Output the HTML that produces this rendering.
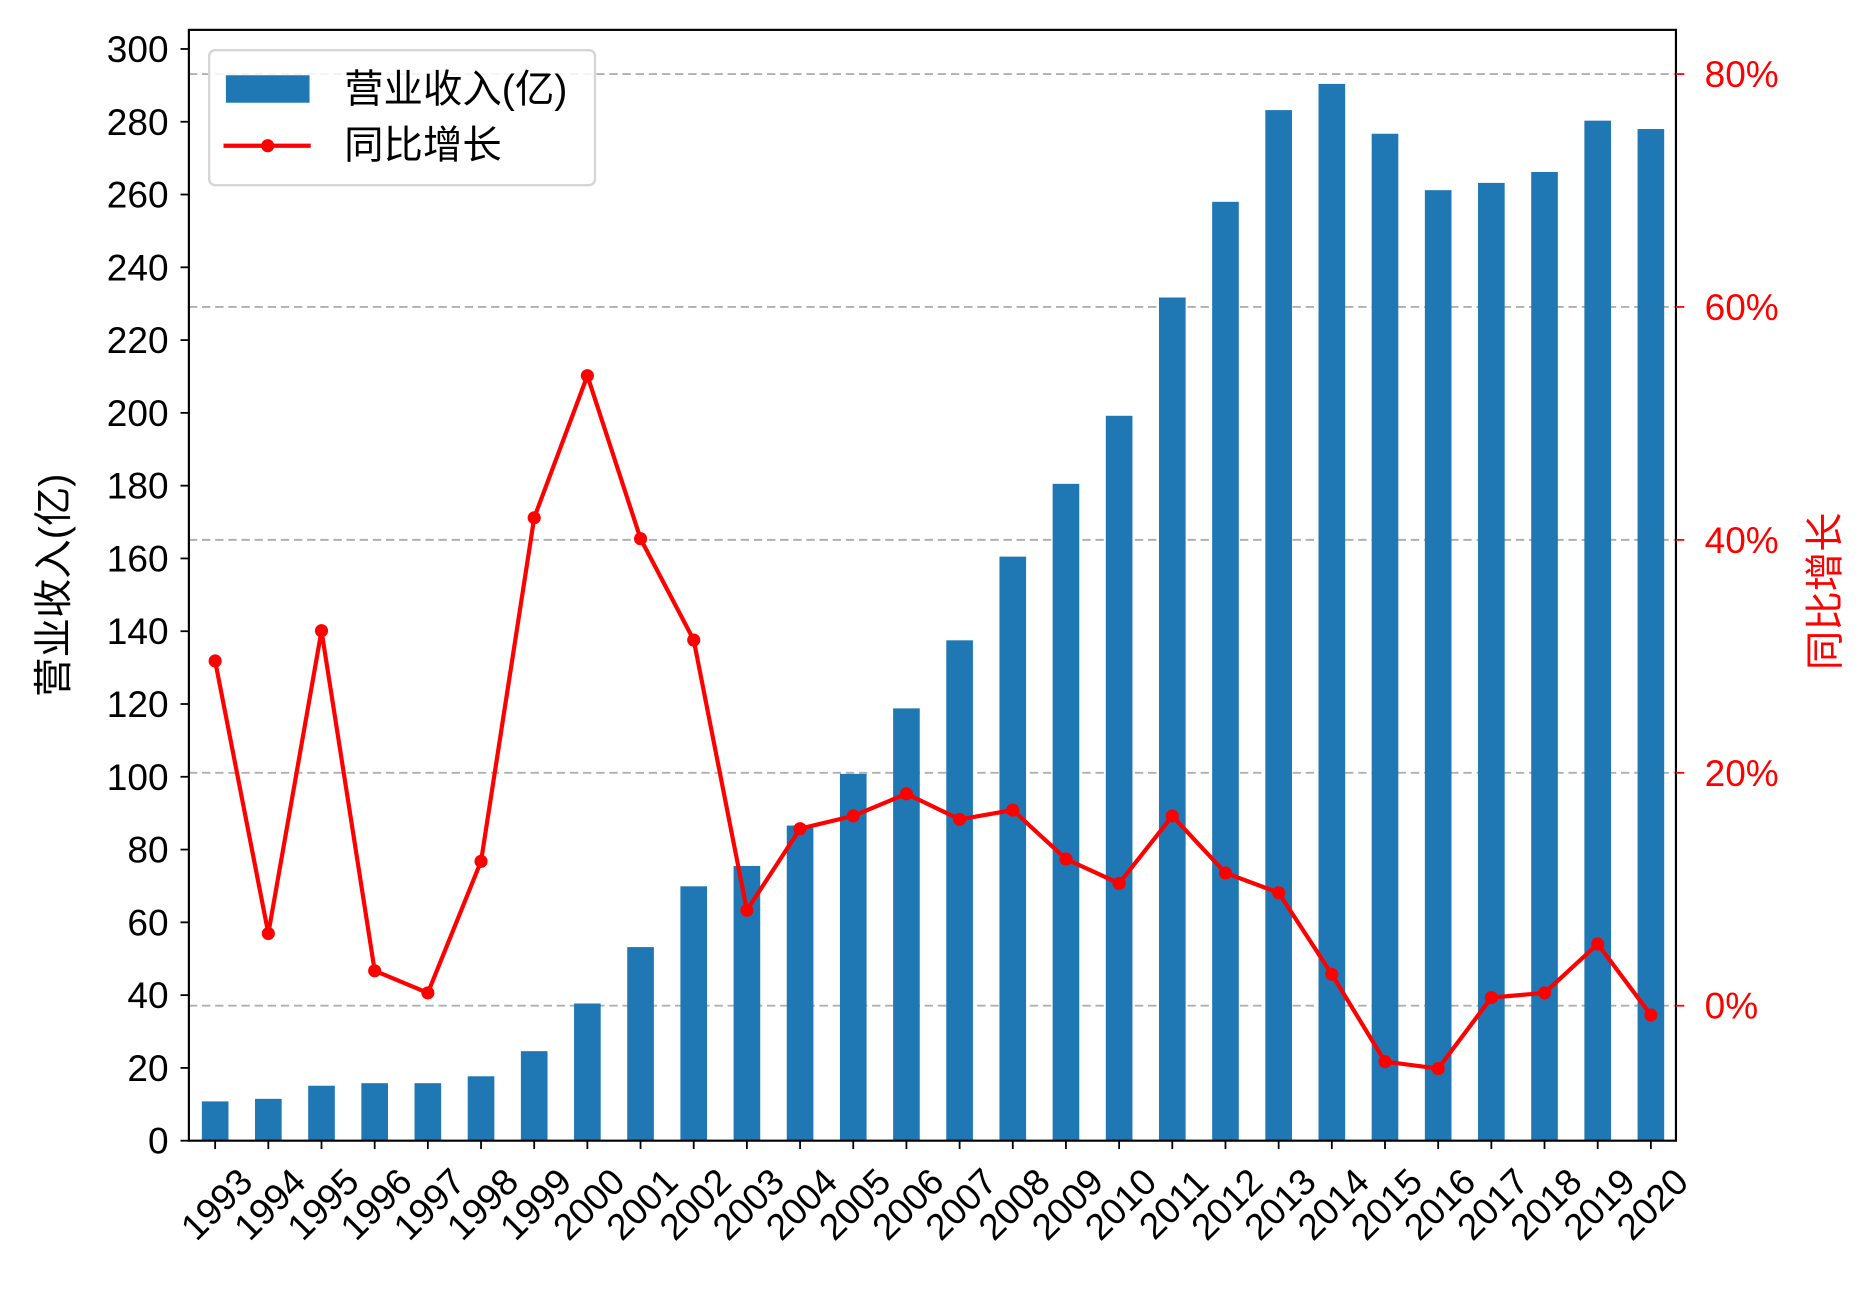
<!DOCTYPE html>
<html><head><meta charset="utf-8"><style>
html,body{margin:0;padding:0;background:#fff;}
body{position:relative;width:1872px;height:1290px;overflow:hidden}
svg{display:block;font-family:"Liberation Sans","Noto Sans CJK SC",sans-serif;}
</style></head><body>
<svg id="chart" width="1872" height="1290" viewBox="0 0 1567 1080" xmlns="http://www.w3.org/2000/svg">
<g id="grid"></g><g id="bars"></g><g id="line"></g><g id="axes"></g>
<text transform="translate(45,490) rotate(-90)" text-anchor="middle" dominant-baseline="central" font-size="33" fill="#000">营业收入(亿)</text>
<text transform="translate(1528,495) rotate(-90)" text-anchor="middle" dominant-baseline="central" font-size="33" fill="#ff0000">同比增长</text>
<g>
<rect x="175" y="42" width="323" height="113" rx="5" fill="#fff" fill-opacity="0.85" stroke="#d6d6d6" stroke-width="2"/>
<rect x="189" y="63" width="70" height="23" fill="#1f77b4"/>
<text x="288" y="75" dominant-baseline="central" font-size="33" fill="#000">营业收入(亿)</text>
<line x1="187" x2="260" y1="122" y2="122" stroke="#ff0000" stroke-width="3.5"/>
<circle cx="224" cy="122" r="5.5" fill="#ff0000"/>
<text x="288" y="122" dominant-baseline="central" font-size="33" fill="#000">同比增长</text>
</g>
</svg>
<script>
const years = [1993,1994,1995,1996,1997,1998,1999,2000,2001,2002,2003,2004,2005,2006,2007,2008,2009,2010,2011,2012,2013,2014,2015,2016,2017,2018,2019,2020];
const revenue = [10.8,11.5,15.1,15.8,15.8,17.7,24.6,37.7,53.2,69.9,75.5,86.6,100.8,118.8,137.5,160.5,180.5,199.2,231.7,258,283.2,290.4,276.7,261.2,263.2,266.2,280.3,278];
const growth = [29.6,6.2,32.2,3.0,1.1,12.4,41.9,54.1,40.1,31.4,8.2,15.2,16.3,18.2,16.0,16.8,12.6,10.5,16.3,11.4,9.7,2.7,-4.8,-5.4,0.7,1.1,5.3,-0.8];
const leftTicks = [0,20,40,60,80,100,120,140,160,180,200,220,240,260,280,300];
const rightTicks = [0,20,40,60,80];

const NS='http://www.w3.org/2000/svg';
const L=158,R=1403,T=25,B=955;
const xs=i=>180+i*(1382-180)/27;
const yl=v=>955-v*(955-41)/300;
const yr=p=>842-p*(842-62)/80;
function mk(tag,attrs,parent,text){const e=document.createElementNS(NS,tag);for(const k in attrs)e.setAttribute(k,attrs[k]);if(text!==undefined)e.textContent=text;parent.appendChild(e);return e;}
const grid=document.getElementById('grid'),bars=document.getElementById('bars'),line=document.getElementById('line'),axes=document.getElementById('axes');

rightTicks.forEach(p=>{const g=mk('line',{x1:L,x2:R,y1:yr(p),y2:yr(p),stroke:'#b0b0b0','stroke-width':1.6,'stroke-dasharray':'7,4'},grid);

});

const bw=22.3;
revenue.forEach((v,i)=>{const b=mk('rect',{x:xs(i)-bw/2,y:yl(v),width:bw,height:yl(0)-yl(v),fill:'#1f77b4'},bars);

});

const pts=growth.map((p,i)=>xs(i)+','+yr(p)).join(' ');
const pl=mk('polyline',{points:pts,fill:'none',stroke:'#ff0000','stroke-width':3.5,'stroke-linejoin':'round'},line);


growth.forEach((p,i)=>{const c=mk('circle',{cx:xs(i),cy:yr(p),r:5.5,fill:'#ff0000'},line);

});

const frame=mk('rect',{x:L,y:T,width:R-L,height:B-T,fill:'none',stroke:'#000','stroke-width':1.8},axes);



leftTicks.forEach(v=>{mk('line',{x1:L-7,x2:L,y1:yl(v),y2:yl(v),stroke:'#000','stroke-width':1.5},axes);
const t=mk('text',{x:L-17,y:yl(v),'text-anchor':'end','dominant-baseline':'central','font-size':31,fill:'#000'},axes,String(v));

});

rightTicks.forEach(p=>{mk('line',{x1:R,x2:R+7,y1:yr(p),y2:yr(p),stroke:'#ff0000','stroke-width':1.5},axes);
const t=mk('text',{x:R+24,y:yr(p),'text-anchor':'start','dominant-baseline':'central','font-size':31,fill:'#ff0000'},axes,p+'%');

});

years.forEach((yv,i)=>{mk('line',{x1:xs(i),x2:xs(i),y1:B,y2:B+7,stroke:'#000','stroke-width':1.5},axes);
const t=mk('text',{x:0,y:0,'text-anchor':'middle','dominant-baseline':'central','font-size':31,fill:'#000',transform:'translate('+(xs(i)+1)+',1008) rotate(-45)'},axes,String(yv));

});
</script>
</body></html>
